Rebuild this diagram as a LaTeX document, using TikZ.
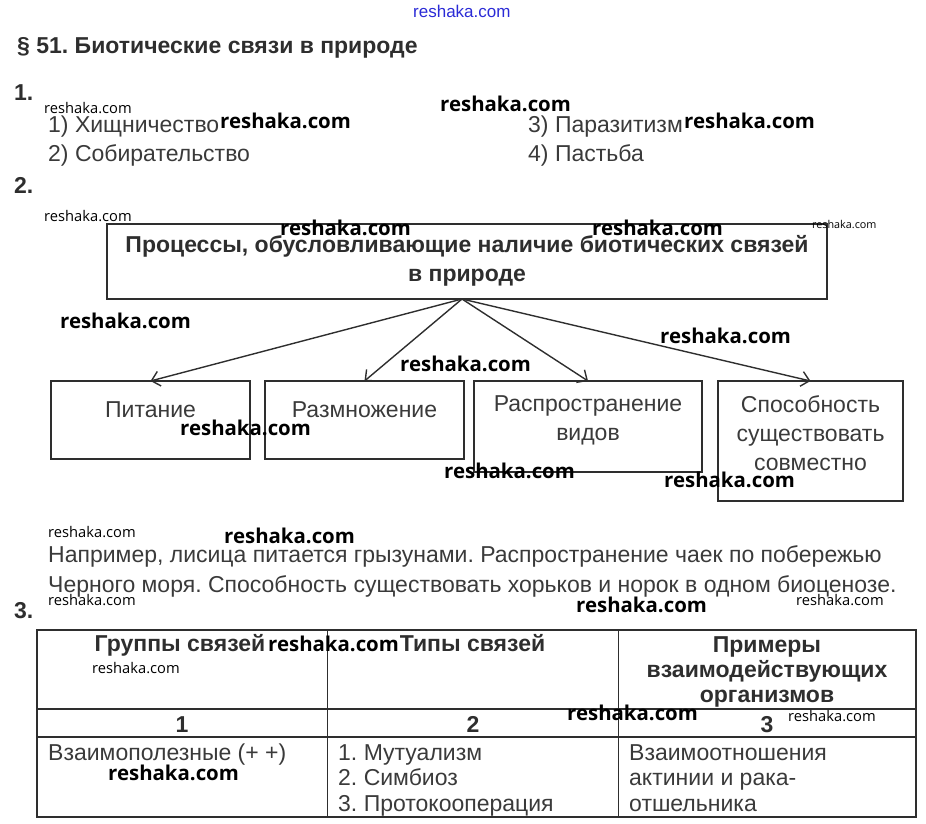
\documentclass[tikz,border=0pt]{standalone}
\usepackage{fontspec}
\setmainfont{Liberation Sans}
\newfontfamily\wmfont{Open Sans}
\usetikzlibrary{arrows.meta, positioning}
\definecolor{ink}{HTML}{3A3A3A}
\definecolor{inkdark}{HTML}{2E2E2E}
\definecolor{wmblue}{HTML}{2B2BD6}
\frenchspacing
\tikzset{
    page/.style={x=1pt, y=-1pt, >={Straight Barb[length=8pt, width=15pt]}},
    txt/.style={anchor=base west, inner sep=0pt, text=ink, font=\fontsize{23}{29}\selectfont},
    ctxt/.style={txt, anchor=base, align=center},
    head/.style={txt, text=inkdark, font=\fontsize{23}{29}\selectfont\bfseries},
    chead/.style={head, anchor=base, align=center},
    box/.style={draw=inkdark, line width=1.6pt, inner sep=0pt, outer sep=0pt},
    grid/.style={draw=inkdark, line width=1.1pt},
    arr/.style={->, draw=inkdark, line width=1.4pt},
    % watermarks
    wm/.style={anchor=base west, inner sep=0pt, font=\wmfont\bfseries\fontsize{20.4}{21}\selectfont},
    wmsmall/.style={wm, font=\wmfont\fontsize{14.7}{14}\selectfont},
    wmtiny/.style={wm, font=\wmfont\fontsize{10.8}{10}\selectfont},
}

\begin{document}
\begin{tikzpicture}[page]
    \useasboundingbox (0,0) rectangle (926,823);

    \node[head] (title) at (17,53) {\S\ 51. Биотические связи в природе};

    % task 1
    \node[head] (n1) at (14,100) {1.};
    \node[txt] (a1) at (48,132) {1) Хищничество};
    \node[txt] (a2) at (48,161) {2) Собирательство};
    \node[txt] (a3) at (528,132) {3) Паразитизм};
    \node[txt] (a4) at (528,161) {4) Пастьба};

    % task 2
    \node[head] (n2) at (14,193) {2.};
    \node[box, minimum width=720pt, minimum height=75pt] (top) at (467,261.5) {};
    \node[chead] (toplbl) at ([yshift=-57pt]top.north) {Процессы, обусловливающие наличие биотических связей\\в природе};

    \node[box, minimum width=199pt, minimum height=78pt] (pit) at (150.5,420) {};
    \node[box, anchor=north west, minimum width=199pt, minimum height=78pt] (razm) at ([xshift=15pt]pit.north east) {};
    \node[box, anchor=north west, minimum width=228pt, minimum height=91pt] (rasp) at ([xshift=10pt]razm.north east) {};
    \node[box, anchor=north west, minimum width=185pt, minimum height=120pt] (spos) at ([xshift=16pt]rasp.north east) {};

    \node[ctxt] (pitlbl) at ([yshift=-36pt]pit.north) {Питание};
    \node[ctxt] (razmlbl) at ([yshift=-36pt]razm.north) {Размножение};
    \node[ctxt] (rasplbl) at ([yshift=-59pt]rasp.north) {Распространение\\видов};
    \node[ctxt] (sposlbl) at ([yshift=-89pt]spos.north) {Способность\\существовать\\совместно};

    \coordinate (fork) at ([xshift=-5pt]top.south);
    \draw[arr] (fork) -- (pit.north);
    \draw[arr] (fork) -- (razm.north);
    \draw[arr] (fork) -- (rasp.north);
    \draw[arr] (fork) -- (spos.north);

    \node[txt] (ex1) at (48,562) {Например, лисица питается грызунами. Распространение чаек по побережью};
    \node[txt] (ex2) at (48,592) {Черного моря. Способность существовать хорьков и норок в одном биоценозе.};

    % task 3: table
    \node[head] (n3) at (14,618) {3.};
    \coordinate (tl) at (37,630);
    \coordinate (br) at (916,817);
    \coordinate (c2) at (327.7,630);
    \coordinate (c3) at (618.7,630);
    \coordinate (r2) at (37,709);
    \coordinate (r3) at (37,737);
    \draw[grid] (tl) rectangle (br);
    \draw[grid] (r2) -- (r2 -| br);
    \draw[grid] (r3) -- (r3 -| br);
    \draw[grid] (c2) -- (c2 |- br);
    \draw[grid] (c3) -- (c3 |- br);

    \node[chead] (h1) at (180,651) {Группы связей};
    \node[chead] (h2) at (472.5,651) {Типы связей};
    \node[chead, font=\fontsize{23}{25}\selectfont\bfseries] (h3) at (767,702) {Примеры\\взаимодействующих\\организмов};
    \node[chead] (k1) at (182,732) {1};
    \node[chead] (k2) at (473,732) {2};
    \node[chead] (k3) at (767,732) {3};
    \node[txt] (g1) at (48,760) {Взаимополезные (+ +)};
    \node[txt, align=left, font=\fontsize{23}{25.5}\selectfont] (t1) at (338,811) {1. Мутуализм\\2. Симбиоз\\3. Протокооперация};
    \node[txt, align=left, font=\fontsize{23}{25.5}\selectfont] (e1) at (629,811) {Взаимоотношения\\актинии и рака-\\отшельника};

    % watermarks
    \node[wm, font=\fontsize{17}{17}\selectfont, text=wmblue] (wmtop) at (413,17) {reshaka.com};
    \foreach \x/\y [count=\i] in {440/111, 220/128, 684/128, 280/235, 592/235, 60/328, 400/371, 660/343,
        180/435, 444/478, 664/487, 224/543, 576/612, 268/651, 567/720, 108/780}
        \node[wm] (wm\i) at (\x,\y) {reshaka.com};
    \foreach \x/\y [count=\i] in {44/113, 44/221, 48/537, 48/605, 796/605, 92/673, 788/721}
        \node[wmsmall] (wms\i) at (\x,\y) {reshaka.com};
    \node[wmtiny] (wmt1) at (812,228) {reshaka.com};
\end{tikzpicture}
\end{document}
